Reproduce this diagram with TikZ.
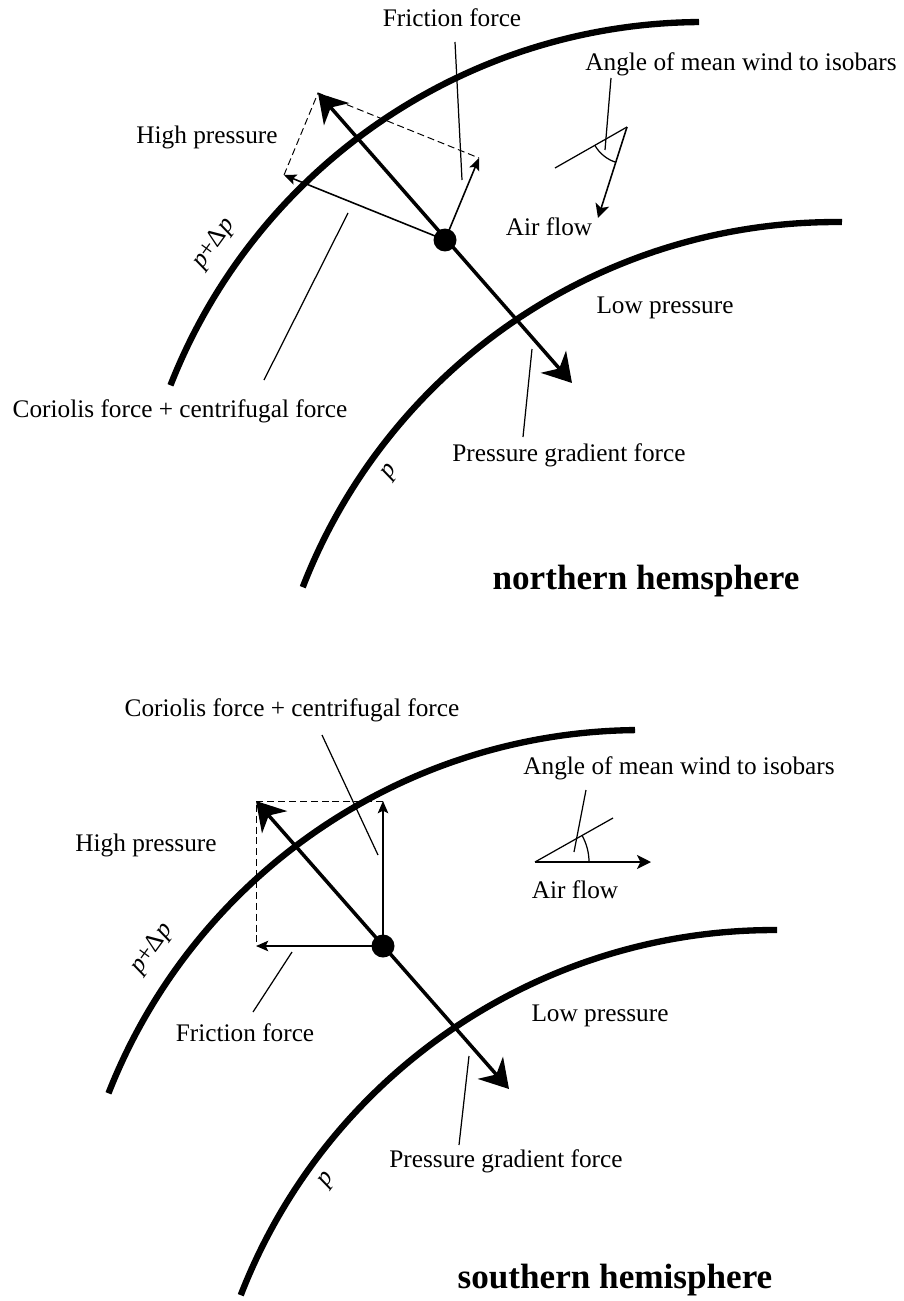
\documentclass[tikz,border=0pt]{standalone}
\usepackage{fontspec}
\setmainfont{Liberation Serif}
\usepackage{tikz}
\usetikzlibrary{arrows.meta,positioning}

\begin{document}
\begin{tikzpicture}[>=Stealth, x=0.02cm, y=-0.02cm,
    isobar/.style={line width=3.6pt},
    wind/.style={line width=2pt, {Stealth[length=16pt,width=19pt,inset=5pt]}-{Stealth[length=16pt,width=19pt,inset=5pt]}},
    force/.style={line width=0.9pt, -{Stealth[length=7pt,width=6pt,inset=1.5pt]}},
    flow/.style={line width=0.9pt, -{Stealth[length=8pt,width=8pt,inset=2pt]}},
    helper/.style={line width=0.55pt, dash pattern=on 4pt off 2.2pt},
    leader/.style={line width=0.7pt},
    parcel/.style={circle, fill, inner sep=0pt, minimum size=0.46cm},
    lbl/.style={font=\fontsize{14.4}{17}\selectfont, inner sep=0pt},
    title/.style={font=\fontsize{20}{24}\selectfont\bfseries, inner sep=0pt}]
    \useasboundingbox (0,0) rectangle (903,1301);

    % northern hemisphere
    \draw[isobar] ([shift={(201.4:572)}]703,594) arc[start angle=201.4, end angle=269.6, radius=572];
    \draw[isobar] ([shift={(201.2:572)}]836,794) arc[start angle=201.2, end angle=270.6, radius=572];

    \node[parcel] (d1) at (445,240) {};
    \coordinate (c1) at (284,175);
    \coordinate (f1) at (479,158);
    \coordinate (r1) at (318,93);
    \coordinate (g1) at (572,383);

    \draw[helper] (c1) -- (r1) -- (f1);
    \draw[force] (d1.center) -- (c1);
    \draw[force] (d1.center) -- (f1);
    \draw[wind] (r1) -- (g1);

    \node[lbl] (fric1) at (452,18) {Friction force};
    \node[lbl] (high1) at (207,137) {High pressure};
    \node[lbl] (low1) at (665,308) {Low pressure};
    \node[lbl] (cor1) at (180,411) {Coriolis force + centrifugal force};
    \node[lbl] (pgf1) at (569,455) {Pressure gradient force};
    \node[lbl] (ang1) at (741,64) {Angle of mean wind to isobars};
    \node[lbl] (air1) at (549,227) {Air flow};
    \node[lbl, rotate=54] (pdp1) at (214,244) {\textit{p}+Δ\textit{p}};
    \node[lbl, rotate=54] (p1) at (391,472) {\textit{p}};
    \node[title] (nh) at (646,581) {northern hemsphere};

    \coordinate (fa1) at (455,42);
    \coordinate (fb1) at (462,180);
    \coordinate (ca1) at (348,213);
    \coordinate (cb1) at (264,380);
    \coordinate (pa1) at (532,349);
    \coordinate (pb1) at (523,437);
    \draw[leader] (fa1) -- (fb1);
    \draw[leader] (ca1) -- (cb1);
    \draw[leader] (pa1) -- (pb1);

    \coordinate (v1) at (627,127);
    \coordinate (i1) at (555,168);
    \coordinate (a1) at (598,218);
    \coordinate (aa1) at (611,78);
    \coordinate (ab1) at (605,150);
    \draw[leader] (v1) -- (i1);
    \draw[flow] (v1) -- (a1);
    \draw[leader] ([shift={(108.5:37)}]v1) arc[start angle=108.5, end angle=150, radius=37];
    \draw[leader] (aa1) -- (ab1);

    % southern hemisphere
    \draw[isobar] ([shift={(201.4:572)}]641,1302) arc[start angle=201.4, end angle=269.4, radius=572];
    \draw[isobar] ([shift={(201.2:572)}]774,1502) arc[start angle=201.2, end angle=270.3, radius=572];

    \node[parcel] (d2) at (383,946) {};
    \coordinate (c2) at (383,801);
    \coordinate (f2) at (256,946);
    \coordinate (r2) at (256,801);
    \coordinate (g2) at (509,1089);

    \draw[helper] (c2) -- (r2) -- (f2);
    \draw[force] (d2.center) -- (c2);
    \draw[force] (d2.center) -- (f2);
    \draw[wind] (r2) -- (g2);

    \node[lbl] (cor2) at (292,710) {Coriolis force + centrifugal force};
    \node[lbl] (high2) at (146,845) {High pressure};
    \node[lbl] (ang2) at (679,768) {Angle of mean wind to isobars};
    \node[lbl] (air2) at (575,890) {Air flow};
    \node[lbl] (fric2) at (245,1033) {Friction force};
    \node[lbl] (low2) at (600,1016) {Low pressure};
    \node[lbl] (pgf2) at (506,1161) {Pressure gradient force};
    \node[lbl, rotate=54] (pdp2) at (152,949) {\textit{p}+Δ\textit{p}};
    \node[lbl, rotate=54] (p2) at (328,1180) {\textit{p}};
    \node[title] (sh) at (615,1280) {southern hemisphere};

    \coordinate (ca2) at (322,735);
    \coordinate (cb2) at (378,855);
    \coordinate (fa2) at (292,952);
    \coordinate (fb2) at (253,1012);
    \coordinate (pa2) at (469,1056);
    \coordinate (pb2) at (459,1145);
    \draw[leader] (ca2) -- (cb2);
    \draw[leader] (fa2) -- (fb2);
    \draw[leader] (pa2) -- (pb2);

    \coordinate (v2) at (535,862);
    \coordinate (i2) at (613,818);
    \coordinate (a2) at (651,862);
    \coordinate (aa2) at (586,790);
    \coordinate (ab2) at (574,852);
    \draw[leader] (v2) -- (i2);
    \draw[flow] (v2) -- (a2);
    \draw[leader] ([shift={(0:54)}]v2) arc[start angle=0, end angle=-29.4, radius=54];
    \draw[leader] (aa2) -- (ab2);
\end{tikzpicture}
\end{document}
